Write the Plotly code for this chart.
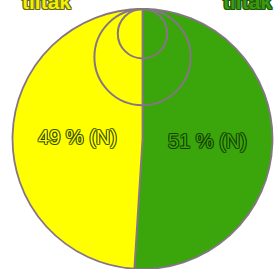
import plotly.graph_objects as go

# ---- data ----
labels = ["Green", "Yellow"]
values = [51, 49]
slice_colors = ["#3aa60c", "#ffff00"]
text_labels = ["51 % (N)", "49 % (N)"]
circle_scale = [0.37, 0.19]  # relative radius of nested reference circles
corner_labels = ["tiltak", "tiltak"]

# ---- geometry (pixels) ----
W, H = 278, 269
cx, cy, R = 142.5, 139.0, 130.0
outline = "#857585"


def ring(c):
    return ", ".join(f"{dx}px {dy}px 0 {c}" for dx, dy in
                     [(1, 0), (-1, 0), (0, 1), (0, -1), (1, 1), (-1, -1), (1, -1), (-1, 1)])


fig = go.Figure()

fig.add_trace(go.Pie(
    labels=labels,
    values=values,
    sort=False,
    direction="clockwise",
    rotation=0,
    marker=dict(colors=slice_colors, line=dict(color=outline, width=1.8)),
    text=text_labels,
    texttemplate="%{text}",
    textposition="inside",
    insidetextorientation="horizontal",
    insidetextfont=dict(
        family="Liberation Sans, Arial, sans-serif",
        size=20,
        color=slice_colors,
        shadow=ring("rgba(20,50,0,0.55)"),
    ),
    showlegend=False,
    hoverinfo="skip",
    domain=dict(x=[(cx - R) / W, (cx + R) / W],
                y=[max(0, 1 - (cy + R) / H), 1 - (cy - R) / H]),
))

# invisible axes in pie-radius units for the nested circles
fig.update_xaxes(range=[-cx / R, (W - cx) / R], visible=False, fixedrange=True)
fig.update_yaxes(range=[-(H - cy) / R, cy / R], visible=False, fixedrange=True)

for r in circle_scale:
    fig.add_shape(type="circle", xref="x", yref="y",
                  x0=-r, x1=r, y0=1 - 2 * r, y1=1,
                  line=dict(color=outline, width=2), layer="above")

fig.add_annotation(text="<b>" + corner_labels[0] + "</b>", xref="paper", yref="paper",
                   x=20 / W, y=1 - 15 / H, xanchor="left", yanchor="bottom",
                   showarrow=False,
                   font=dict(family="Liberation Sans, Arial", size=21, color="#f0f000",
                             shadow=ring("#6b6b20")))
fig.add_annotation(text="<b>" + corner_labels[1] + "</b>", xref="paper", yref="paper",
                   x=221 / W, y=1 - 15 / H, xanchor="left", yanchor="bottom",
                   showarrow=False,
                   font=dict(family="Liberation Sans, Arial", size=21, color="#3a9a10",
                             shadow=ring("#1f5a05")))

fig.update_layout(
    width=W, height=H, autosize=False,
    margin=dict(l=0, r=0, t=0, b=0),
    paper_bgcolor="white", plot_bgcolor="rgba(0,0,0,0)",
)

fig.write_html("out.html", config={"displayModeBar": False},
               post_script="document.body.style.margin='0';")
